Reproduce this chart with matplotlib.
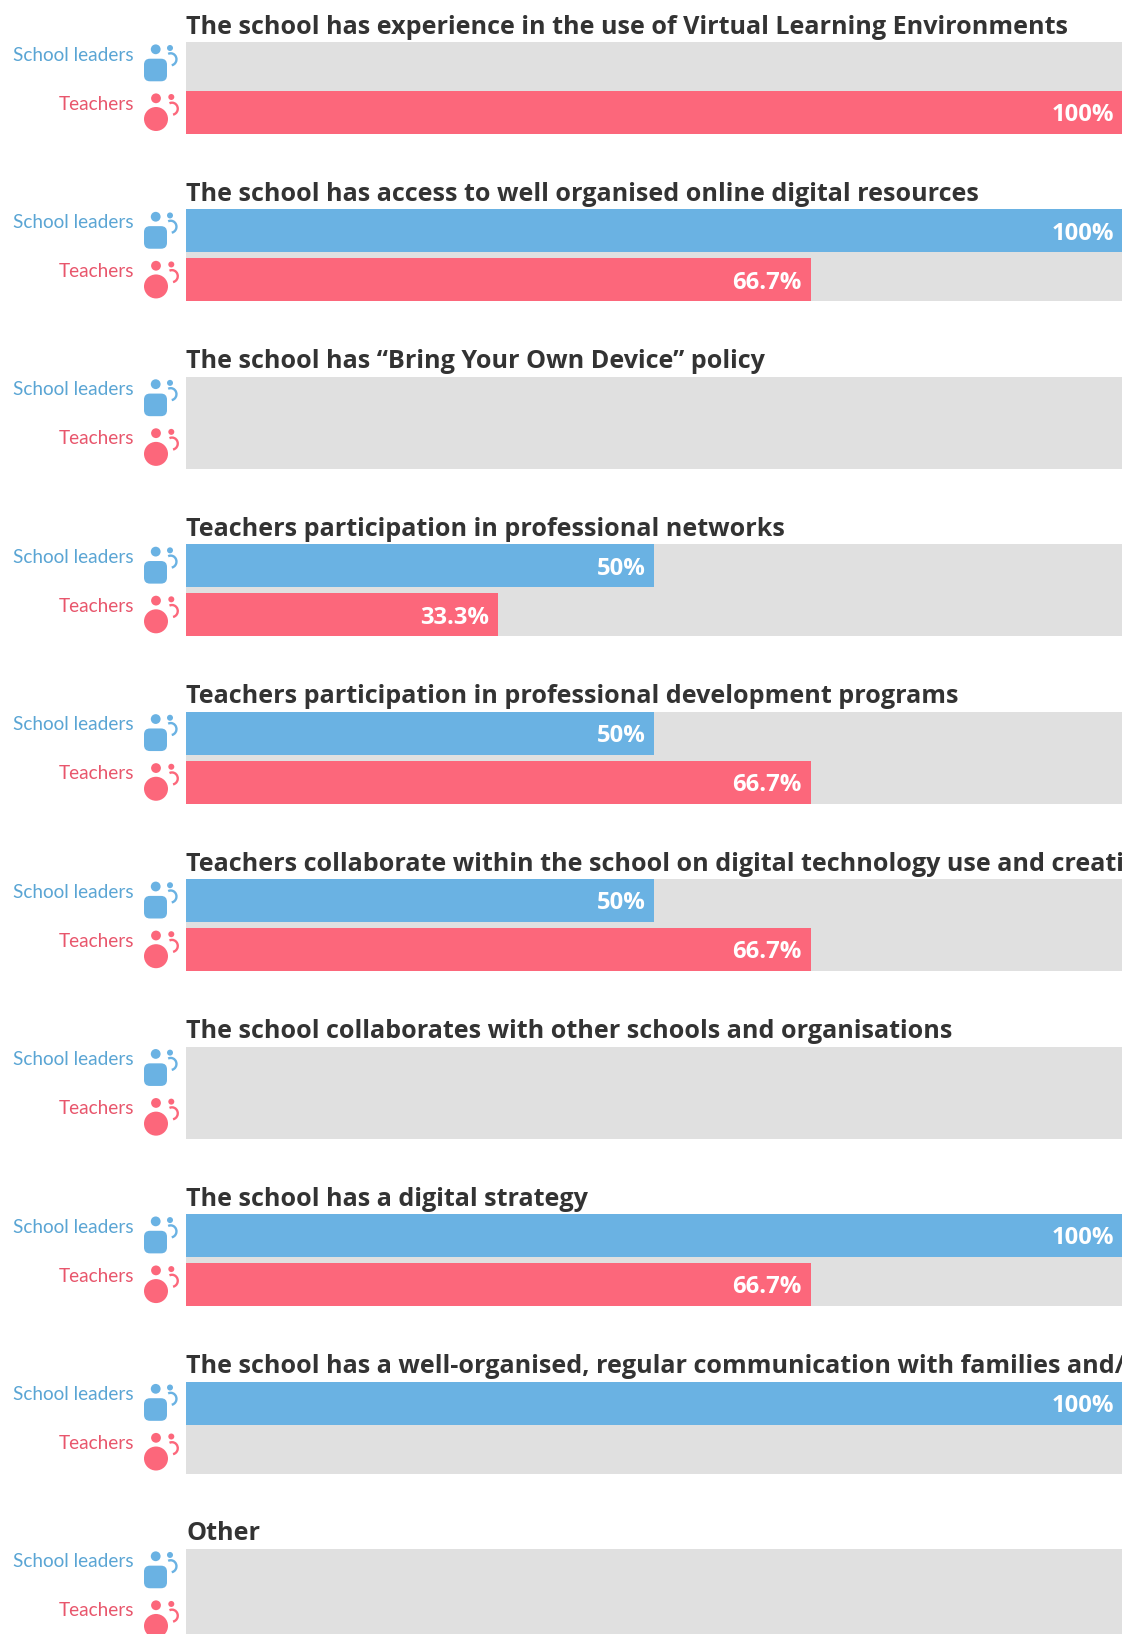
import matplotlib
matplotlib.use("Agg")
import matplotlib.pyplot as plt
from matplotlib.patches import Arc, Circle, FancyBboxPatch
from matplotlib.transforms import Bbox, TransformedBbox

# data
questions = [
    "The school has experience in the use of Virtual Learning Environments",
    "The school has access to well organised online digital resources",
    "The school has “Bring Your Own Device” policy",
    "Teachers participation in professional networks",
    "Teachers participation in professional development programs",
    "Teachers collaborate within the school on digital technology use and creati",
    "The school collaborates with other schools and organisations",
    "The school has a digital strategy",
    "The school has a well-organised, regular communication with families and/",
    "Other",
]
school_leaders = [0, 100, 0, 50, 50, 50, 0, 100, 100, 0]
teachers = [100, 66.7, 0, 33.3, 66.7, 66.7, 0, 66.7, 0, 0]
group_names = ["School leaders", "Teachers"]

# colours
BLUE = "#6ab2e3"
RED = "#fc677b"
BLUE_TXT = "#5aa5d4"
RED_TXT = "#e8566c"
GREY = "#e0e0e0"
DARK = "#333333"

# layout in pixels
W, H = 1125, 1634
LEFT, RIGHT = 186, 1122.4
TOP, PITCH = 42, 167.44
PANEL_H = 92
BAR_H = 43
BAR_Y = [BAR_H / 2, PANEL_H - BAR_H / 2]

plt.rcParams["font.family"] = ["Lato", "DejaVu Sans"]
BOLD_FONT = ["Open Sans", "Lato", "DejaVu Sans"]

fig = plt.figure(figsize=(W / 100, H / 100), dpi=100, facecolor="white")

# pixel layer for titles, labels and icons
bg = fig.add_axes([0, 0, 1, 1])
bg.set_xlim(0, W)
bg.set_ylim(H, 0)
bg.axis("off")
title_clip = TransformedBbox(Bbox([[0, 0], [RIGHT, H]]), bg.transData)


def draw_blue_icon(top):
    bg.add_patch(Circle((155.7, top + 7.3), 4.9, color=BLUE, lw=0))
    bg.add_patch(FancyBboxPatch((150, top + 22.7), 11, 10.6,
                                boxstyle="round,pad=6,rounding_size=6",
                                color=BLUE, lw=0))
    bg.add_patch(Circle((170, top + 6), 3, color=BLUE, lw=0))
    bg.add_patch(Arc((170.7, top + 17.3), 11.5, 12, theta1=-115, theta2=80,
                     color=BLUE, lw=1.7))


def draw_red_icon(top):
    bg.add_patch(Circle((156, top + 56.3), 4.9, color=RED, lw=0))
    bg.add_patch(Circle((156, top + 77), 12, color=RED, lw=0))
    bg.add_patch(Circle((171.3, top + 55), 3, color=RED, lw=0))
    bg.add_patch(Arc((172, top + 66.7), 11.5, 12, theta1=-115, theta2=80,
                     color=RED, lw=1.7))


for i, q in enumerate(questions):
    top = TOP + i * PITCH

    t = bg.text(186, top - 8.5, q, fontsize=18.05, fontweight="bold", color=DARK,
                family=BOLD_FONT, ha="left", va="baseline")
    t.set_clip_box(title_clip)
    t.set_clip_on(True)

    bg.text(134, top + 18.5, group_names[0], fontsize=13.7, color=BLUE_TXT,
            ha="right", va="baseline")
    bg.text(134, top + 67.5, group_names[1], fontsize=13.7, color=RED_TXT,
            ha="right", va="baseline")
    draw_blue_icon(top)
    draw_red_icon(top)

    ax = fig.add_axes([LEFT / W, 1 - (top + PANEL_H) / H,
                       (RIGHT - LEFT) / W, PANEL_H / H])
    ax.set_facecolor(GREY)
    ax.set_xlim(0, 100)
    ax.set_ylim(PANEL_H, 0)
    for s in ax.spines.values():
        s.set_visible(False)
    ax.set_xticks([])
    ax.set_yticks([])

    vals = [school_leaders[i], teachers[i]]
    ax.barh(BAR_Y, vals, height=BAR_H, color=[BLUE, RED], linewidth=0)
    for y, v in zip(BAR_Y, vals):
        if v > 0:
            ax.annotate(f"{v:g}%", (v, y + 8.7), xytext=(-6.2, 0),
                        textcoords="offset points", fontsize=17.2,
                        fontweight="bold", color="white", family=BOLD_FONT,
                        ha="right", va="baseline")

fig.savefig("out.png", dpi=100, facecolor="white")
